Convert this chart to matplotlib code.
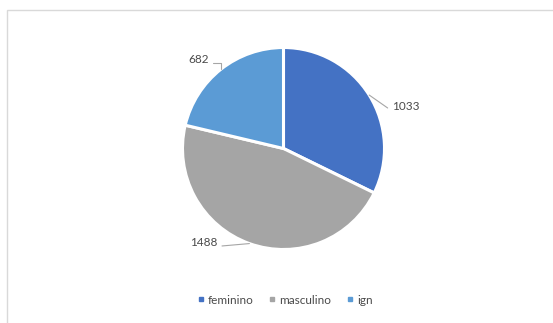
import numpy as np
import matplotlib.pyplot as plt
from matplotlib.patches import Rectangle
from matplotlib.lines import Line2D

categories = ['feminino', 'masculino', 'ign']
values = [1033, 1488, 682]
colors = ['#4472C4', '#A5A5A5', '#5B9BD5']

plt.rcParams['font.family'] = ['Lato', 'DejaVu Sans']
text_color = '#4a4a4a'
line_color = '#a6a6a6'

W, H = 553, 323
fig = plt.figure(figsize=(W / 100, H / 100), dpi=100)

# chart frame (light gray, runs off right/bottom edge)
fig.patches.append(Rectangle((7 / W, -0.1), 1.2, 1 - 10 / H + 0.1,
                             transform=fig.transFigure, fill=False,
                             edgecolor='#d9d9d9', linewidth=1))

# pie: centre (283.5, 148.5) px, radius 101 px
r_px = 101
cx, cy = 283.5, H - 148.5
side = 2.5 * r_px
ax = fig.add_axes([(cx - side / 2) / W, (cy - side / 2) / H, side / W, side / H])

wedges, _ = ax.pie(values, colors=colors, startangle=90, counterclock=False,
                   radius=1, wedgeprops=dict(edgecolor='white', linewidth=2.2))
ax.set_xlim(-1.25, 1.25)
ax.set_ylim(-1.25, 1.25)
ax.set_aspect('equal')
ax.axis('off')

# data labels with leader lines: (text pos, alignment, angle of leader near pie)
label_pos = {
    'feminino': ((1.07, 0.36), 'left', -35),
    'masculino': ((-0.65, -0.99), 'right', 5),
    'ign': ((-0.74, 0.83), 'right', 90),
}
for w, cat, val in zip(wedges, categories, values):
    mid = np.deg2rad((w.theta1 + w.theta2) / 2)
    ex, ey = np.cos(mid), np.sin(mid)
    (tx, ty), ha, angB = label_pos[cat]
    ax.annotate(str(val), xy=(ex, ey), xytext=(tx, ty), ha=ha, va='bottom',
                fontsize=8.5, color=text_color,
                arrowprops=dict(arrowstyle='-', color=line_color, lw=0.8,
                                shrinkA=1, shrinkB=0,
                                relpos=(0 if ha == 'left' else 1, 0.15),
                                connectionstyle=f'angle,angleA=0,angleB={angB},rad=0'))

handles = [Line2D([], [], marker='s', linestyle='none', markersize=3.2,
                  markerfacecolor=c, markeredgecolor=c) for c in colors]
fig.legend(handles, categories, loc='center', bbox_to_anchor=(285 / W, 1 - 300 / H),
           ncol=3, frameon=False, fontsize=8.5, labelcolor=text_color,
           handlelength=0.6, handletextpad=0.3, columnspacing=1.3)

fig.savefig('out.png', dpi=100, facecolor='white')
